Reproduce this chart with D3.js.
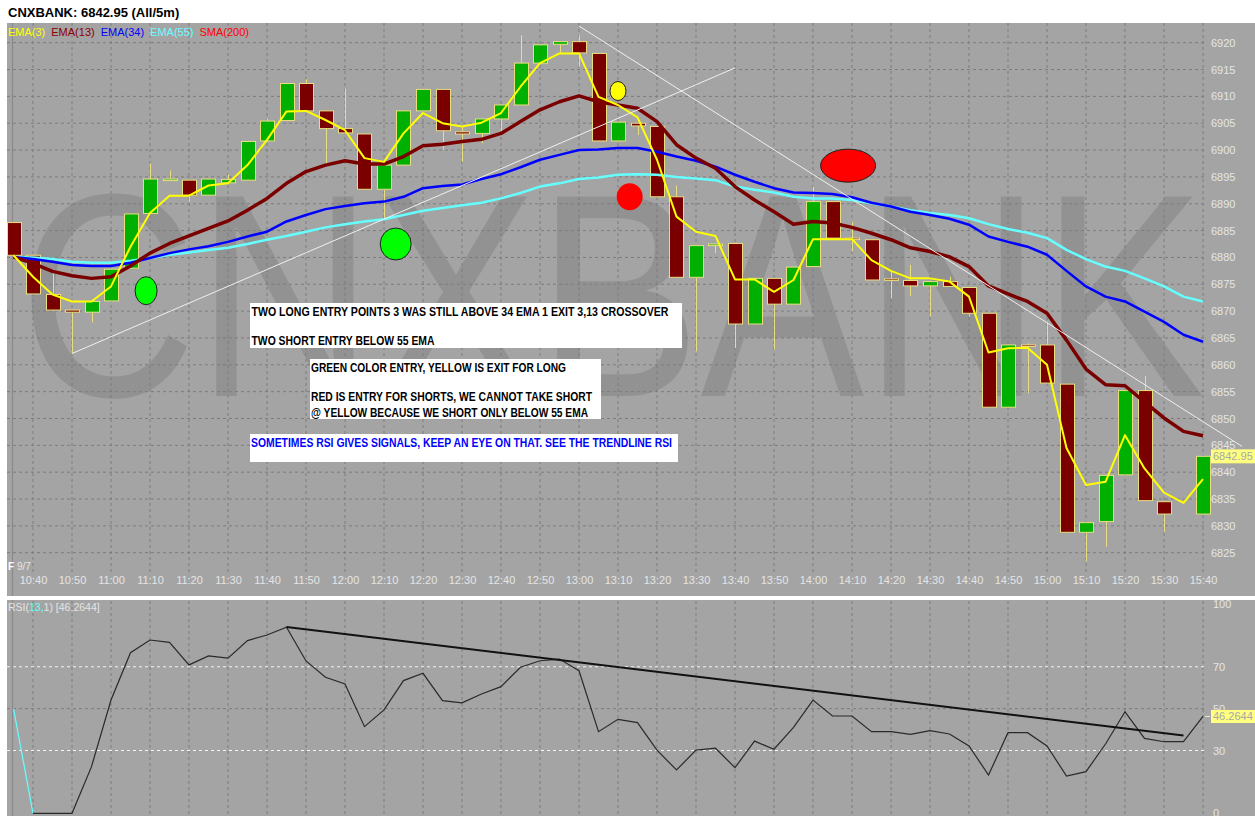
<!DOCTYPE html>
<html><head><meta charset="utf-8">
<script src="https://cdn.jsdelivr.net/npm/d3@7"></script>
<style>
html,body{margin:0;padding:0;background:#fff;}
svg{display:block;}
text{font-family:"Liberation Sans",Arial,sans-serif;}
</style></head><body>
<svg id="chart" width="1255" height="816"></svg>
<script>
// ---------- DATA ----------
const times = ["10:35","10:40","10:45","10:50","10:55","11:00","11:05","11:10","11:15","11:20","11:25","11:30","11:35","11:40","11:45","11:50","11:55","12:00","12:05","12:10","12:15","12:20","12:25","12:30","12:35","12:40","12:45","12:50","12:55","13:00","13:05","13:10","13:15","13:20","13:25","13:30","13:35","13:40","13:45","13:50","13:55","14:00","14:05","14:10","14:15","14:20","14:25","14:30","14:35","14:40","14:45","14:50","14:55","15:00","15:05","15:10","15:15","15:20","15:25","15:30","15:35","15:40"];
const opens = [6886.5,6880.4,6873.1,6870.2,6869.8,6871.9,6878.0,6888.2,6894.5,6894.4,
 6891.6,6893.9,6894.4,6901.7,6905.5,6912.4,6907.3,6904.0,6903.0,6892.7,
 6897.2,6907.3,6911.3,6903.4,6903.1,6905.8,6908.4,6916.2,6919.7,6920.2,
 6918.0,6901.7,6905.0,6904.4,6891.3,6876.3,6882.2,6882.6,6867.6,6876.1,
 6871.3,6878.3,6890.4,6883.6,6883.3,6876.0,6875.7,6874.7,6875.5,6874.4,
 6869.6,6852.1,6863.7,6863.7,6856.4,6828.8,6830.8,6839.5,6855.2,6834.5,
 null,6832.2];
const highs = [6886.5,6880.4,6877.7,6870.2,6871.8,6877.8,6888.1,6897.5,6896.2,6894.4,
 6894.6,6895.5,6901.6,6905.8,6912.4,6913.2,6907.3,6911.4,6903.0,6897.2,
 6907.3,6911.3,6911.3,6904.5,6905.8,6908.4,6921.4,6919.6,6920.2,6921.4,
 6918.0,6905.2,6905.0,6904.4,6893.4,6882.2,6882.6,6882.6,6876.1,6876.1,
 6878.2,6893.2,6890.4,6886.7,6883.3,6877.4,6878.6,6875.5,6876.4,6874.4,
 6869.6,6863.7,6864.0,6867.9,6856.4,6830.6,6839.4,6855.2,6857.9,6834.5,
 null,6842.95];
const lows = [6880.4,6873.2,6870.2,6862.2,6867.9,6871.9,6878.0,6888.2,6894.5,6890.4,
 6891.6,6893.9,6894.4,6901.7,6905.5,6907.3,6897.5,6903.2,6892.7,6887.1,
 6897.2,6907.3,6900.1,6897.8,6901.3,6903.4,6908.4,6916.2,6918.0,6915.5,
 6901.7,6901.7,6902.8,6891.3,6876.3,6862.5,6880.8,6863.1,6867.6,6862.8,
 6871.3,6878.3,6883.6,6881.1,6875.8,6872.4,6872.8,6869.1,6874.6,6869.0,
 6852.1,6852.1,6854.7,6856.6,6828.8,6823.4,6826.1,6839.5,6834.7,6828.9,
 null,6832.2];
const closes = [6880.4,6873.2,6870.2,6869.8,6871.8,6877.8,6888.1,6894.6,6894.6,6891.6,
 6894.6,6894.5,6901.6,6905.4,6912.4,6907.3,6904.0,6903.2,6892.7,6897.2,
 6907.3,6911.3,6903.6,6903.0,6905.8,6908.4,6916.2,6919.6,6920.2,6918.1,
 6901.7,6905.2,6904.5,6891.3,6876.3,6882.2,6882.5,6867.6,6876.1,6871.3,
 6878.2,6890.4,6883.6,6883.4,6875.8,6875.9,6874.7,6875.5,6874.6,6869.6,
 6852.1,6863.7,6863.6,6856.6,6828.8,6830.6,6839.4,6855.2,6834.7,6832.2,
 null,6842.95];
const ema3 = [6880.4,6876.4,6873.1,6871.8,6871.8,6874.6,6882.0,6888.3,6891.5,6891.5,
 6893.4,6893.8,6897.2,6901.9,6907.2,6907.3,6905.6,6903.7,6898.5,6897.8,
 6903.1,6906.9,6905.0,6904.4,6905.1,6906.9,6911.8,6916.2,6918.0,6918.0,
 6909.9,6908.4,6906.1,6898.2,6887.6,6884.8,6884.0,6875.9,6875.9,6873.6,
 6875.8,6883.4,6883.4,6883.4,6879.5,6877.5,6876.1,6876.1,6875.5,6872.7,
 6862.3,6863.1,6863.2,6860.0,6844.5,6837.6,6838.2,6846.9,6840.7,6836.2,
 6834.3,6838.7];
const ema13 = [6880.1,6878.9,6877.4,6876.6,6876.1,6876.4,6878.4,6880.8,6882.6,6884.0,
 6885.4,6886.8,6888.8,6891.0,6893.8,6896.0,6897.2,6898.0,6897.4,6897.4,
 6898.8,6900.8,6901.1,6901.6,6902.0,6903.1,6905.3,6907.5,6909.0,6910.1,
 6909.0,6908.4,6907.8,6905.3,6901.0,6898.5,6896.6,6893.2,6890.7,6888.5,
 6886.2,6886.7,6886.4,6885.6,6884.5,6883.3,6881.8,6881.1,6880.1,6878.3,
 6874.7,6873.2,6871.8,6869.6,6864.6,6859.2,6856.3,6856.1,6853.1,6850.1,
 6847.6,6846.8];
const ema34 = [6880.1,6879.7,6879.2,6878.6,6878.4,6878.4,6879.0,6879.9,6880.8,6881.5,
 6882.1,6882.9,6883.9,6884.8,6886.7,6887.9,6889.0,6889.6,6890.1,6890.4,
 6891.3,6892.9,6893.3,6893.6,6894.6,6895.5,6896.8,6898.2,6899.1,6900.0,
 6900.1,6900.4,6900.4,6899.7,6898.8,6898.0,6896.9,6895.4,6894.1,6892.9,
 6892.1,6892.0,6891.8,6891.2,6890.2,6889.5,6888.5,6887.9,6887.2,6886.1,
 6883.9,6882.9,6882.0,6880.5,6877.5,6874.6,6872.7,6871.8,6869.9,6868.0,
 6865.6,6864.3];
const ema55 = [6880.1,6880.0,6879.7,6879.2,6879.0,6879.0,6879.4,6879.9,6880.5,6880.9,
 6881.4,6881.8,6882.5,6883.3,6884.0,6884.8,6885.6,6886.2,6886.7,6887.1,
 6887.9,6888.7,6889.2,6889.7,6890.2,6891.0,6892.0,6893.2,6893.8,6894.6,
 6894.9,6895.4,6895.5,6895.4,6895.0,6894.7,6894.4,6893.2,6892.6,6892.1,
 6891.3,6891.0,6891.0,6890.7,6890.1,6889.5,6888.8,6888.3,6887.9,6887.3,
 6886.2,6885.3,6884.6,6883.6,6881.4,6879.7,6878.3,6877.5,6876.1,6874.6,
 6872.7,6871.8];
const rsiValues = [50,0,0,0,22.3,54.1,76.7,82.8,81.7,70.9,
 75.2,74.1,82.5,85.2,88.9,72.8,65.0,61.8,41.4,49.4,
 63.4,66.9,53.8,52.8,57.0,60.5,69.8,72.9,73.7,68.1,
 39.0,44.9,43.3,30.2,20.7,30.2,31.1,21.8,34.5,30.6,
 41.1,54.1,46.5,46.5,39.0,39.0,37.7,39.5,37.9,32.2,
 18.3,38.5,38.5,32.2,17.8,19.9,33.1,48.5,35.8,34.2,
 34.2,46.26];
const priceTicks = [6825,6830,6835,6840,6845,6850,6855,6860,6865,6870,6875,6880,6885,6890,6895,6900,6905,6910,6915,6920];
const timeLabels = ["10:40","10:50","11:00","11:10","11:20","11:30","11:40","11:50","12:00","12:10","12:20","12:30","12:40","12:50","13:00","13:10","13:20","13:30","13:40","13:50","14:00","14:10","14:20","14:30","14:40","14:50","15:00","15:10","15:20","15:30","15:40"];
const rsiTicks = [100,70,50,30,0];
const lastPrice = 6842.95;
const lastRsi = 46.2644;
const priceTrendlines = [[["10:50",6862.1],["13:40",6915.3]],[["13:00",6923.1],["15:50",6844.8]]];
const rsiTrendline = [["11:45",89.0],["15:35",37.2]];
const markers = [
 {t:"11:09",p:6873.8,rx:11,ry:14,fill:"#00ff00"},
 {t:"12:13",p:6882.5,rx:15.5,ry:16,fill:"#00ff00"},
 {t:"13:10",p:6911.0,rx:8,ry:9.5,fill:"#ffff00"},
 {t:"13:13",p:6891.3,rx:13,ry:13.5,fill:"#ff0000",noStroke:true},
 {t:"14:09",p:6897.1,rx:27.5,ry:16.5,fill:"#ff0000"}
];
const legend = [["EMA(3)","#ffff00"],["EMA(13)","#8b0000"],["EMA(34)","#0000ff"],["EMA(55)","#66ffff"],["SMA(200)","#ff0000"]];
const notes1 = ["TWO LONG ENTRY POINTS 3 WAS STILL ABOVE 34 EMA 1 EXIT 3,13 CROSSOVER","TWO SHORT ENTRY BELOW 55 EMA"];
const notes2 = ["GREEN COLOR ENTRY, YELLOW IS EXIT FOR LONG","RED IS ENTRY FOR SHORTS, WE CANNOT TAKE SHORT","@ YELLOW BECAUSE WE SHORT ONLY BELOW 55 EMA"];
const notes3 = ["SOMETIMES RSI GIVES SIGNALS, KEEP AN EYE ON THAT. SEE THE TRENDLINE RSI"];

// ---------- SETUP ----------
const svg = d3.select("#chart");
const parseT = d3.timeParse("%H:%M");
const BG = "#a4a4a4", GRID = "#7c7c7c", WICK = "#e8de80";
const x = d3.scaleTime().domain([parseT("10:35"), parseT("15:40")]).range([13.5, 1203]);
const y = d3.scaleLinear().domain([6825, 6920]).range([552.7, 42.7]);
const yR = d3.scaleLinear().domain([0, 100]).range([813.3, 604]);

// title
svg.append("text").attr("x",8).attr("y",16.5).attr("font-size",13).attr("font-weight","bold").attr("fill","#000").text("CNXBANK: 6842.95 (All/5m)");

// panels
svg.append("rect").attr("x",7).attr("y",23).attr("width",1248).attr("height",573).attr("fill",BG);
svg.append("rect").attr("x",7).attr("y",600).attr("width",1248).attr("height",216).attr("fill",BG);

const defs = svg.append("defs");
defs.append("clipPath").attr("id","cp").append("rect").attr("x",7).attr("y",23).attr("width",1248).attr("height",573);
defs.append("clipPath").attr("id","cr").append("rect").attr("x",7).attr("y",600).attr("width",1248).attr("height",216);

const P = svg.append("g").attr("clip-path","url(#cp)");
const R = svg.append("g").attr("clip-path","url(#cr)");

// watermark
P.append("text").attr("x",19).attr("y",396).attr("font-size",290).attr("fill","#929292")
 .attr("textLength",1186).attr("lengthAdjust","spacingAndGlyphs").text("CNXBANK");

// grids
const tl = timeLabels.map(parseT);
P.selectAll(".vg").data(tl).join("line").attr("x1",d=>x(d)).attr("x2",d=>x(d)).attr("y1",23).attr("y2",572)
 .attr("stroke",GRID).attr("stroke-dasharray","3,3");
P.selectAll(".hg").data(priceTicks).join("line").attr("x1",7).attr("x2",1206).attr("y1",d=>y(d)).attr("y2",d=>y(d))
 .attr("stroke",GRID).attr("stroke-dasharray","3,3");
P.append("line").attr("x1",12.5).attr("x2",12.5).attr("y1",23).attr("y2",596).attr("stroke","#8a8a8a").attr("stroke-width",1.2);

R.selectAll(".vg").data(tl).join("line").attr("x1",d=>x(d)).attr("x2",d=>x(d)).attr("y1",601).attr("y2",816)
 .attr("stroke",GRID).attr("stroke-dasharray","3,3");
R.selectAll(".hg").data(rsiTicks.filter(v=>v>0&&v<100)).join("line").attr("x1",7).attr("x2",1206)
 .attr("y1",d=>yR(d)).attr("y2",d=>yR(d))
 .attr("stroke",d=>d===50?GRID:"#f4f4f4").attr("stroke-dasharray","3,3");
R.append("line").attr("x1",12.5).attr("x2",12.5).attr("y1",600).attr("y2",816).attr("stroke","#8a8a8a").attr("stroke-width",1.2);

// candles
const candles = times.map((t,i)=>({t:parseT(t),o:opens[i],h:highs[i],l:lows[i],c:closes[i]})).filter(d=>d.o!=null);
const cg = P.append("g");
cg.selectAll(".wick").data(candles).join("line")
 .attr("x1",d=>Math.round(x(d.t))+0.5).attr("x2",d=>Math.round(x(d.t))+0.5)
 .attr("y1",d=>y(d.h)).attr("y2",d=>y(d.l)).attr("stroke",WICK).attr("stroke-width",1);
cg.selectAll(".body").data(candles).join("rect")
 .attr("x",d=>Math.round(x(d.t))-6.5).attr("width",14)
 .attr("y",d=>y(Math.max(d.o,d.c))).attr("height",d=>Math.max(1.5,Math.abs(y(d.o)-y(d.c))))
 .attr("fill",d=>d.c>=d.o?"#00b000":"#7a0000").attr("stroke",WICK).attr("stroke-width",1);

// EMA lines
const mkLine = (vals)=>d3.line().x((d,i)=>x(parseT(times[i]))).y(d=>y(d))(vals);
const emaStyles = [[ema55,"#66ffff",2.5],[ema34,"#0000ff",2.5],[ema13,"#7a0000",3.5],[ema3,"#ffff00",2]];
emaStyles.forEach(([vals,col,w])=>{
  P.append("path").attr("d",mkLine(vals)).attr("fill","none").attr("stroke",col).attr("stroke-width",w).attr("stroke-linejoin","round");
});

// trendlines
priceTrendlines.forEach(seg=>{
  P.append("line").attr("x1",x(parseT(seg[0][0]))).attr("y1",y(seg[0][1]))
   .attr("x2",x(parseT(seg[1][0]))).attr("y2",y(seg[1][1])).attr("stroke","#f0f0f0").attr("stroke-width",1);
});

// markers
P.selectAll(".mk").data(markers).join("ellipse")
 .attr("cx",d=>x(parseT(d.t))).attr("cy",d=>y(d.p)).attr("rx",d=>d.rx).attr("ry",d=>d.ry)
 .attr("fill",d=>d.fill).attr("stroke",d=>d.noStroke?"none":"#202020").attr("stroke-width",1);

// axes (price)
const ax = d3.axisRight(y).tickValues(priceTicks).tickSize(0).tickPadding(3).tickFormat(d3.format("d"));
const axg = svg.append("g").attr("transform","translate(1208,0)").call(ax);
axg.select(".domain").remove();
axg.selectAll("text").attr("fill","#e4e4e4").attr("font-size",11).attr("font-family","Liberation Sans, Arial, sans-serif");

const tx = d3.axisBottom(x).tickValues(tl).tickSize(0).tickPadding(2).tickFormat(d3.timeFormat("%H:%M"));
const txg = svg.append("g").attr("transform","translate(0,574)").call(tx);
txg.select(".domain").remove();
txg.selectAll("text").attr("fill","#e4e4e4").attr("font-size",11).attr("font-family","Liberation Sans, Arial, sans-serif");

svg.append("text").attr("x",8).attr("y",570).attr("font-size",10).attr("fill","#ffffff").attr("font-weight","bold").text("F");
svg.append("text").attr("x",17).attr("y",570).attr("font-size",10).attr("fill","#e4e4e4").text("9/7");

// last price tag
const lp = svg.append("g");
lp.append("rect").attr("x",1211).attr("y",y(lastPrice)-7).attr("width",44).attr("height",14).attr("fill","#ffff80");
lp.append("text").attr("x",1213).attr("y",y(lastPrice)+4).attr("font-size",11).attr("fill","#a8a8a8").text(lastPrice.toFixed(2));

// legend
const lgT = svg.append("text").attr("x",8).attr("y",36).attr("font-size",11);
legend.forEach(([t,c],i)=>{ lgT.append("tspan").attr("fill",c).attr("dx",i?6:0).text(t); });

// notes
const notes = svg.append("g").attr("font-weight","bold").attr("font-size",12.5);
notes.append("rect").attr("x",250).attr("y",303).attr("width",432).attr("height",45).attr("fill","#fff");
notes.append("rect").attr("x",310).attr("y",359).attr("width",291).attr("height",60).attr("fill","#fff");
notes.append("rect").attr("x",250).attr("y",434).attr("width",428).attr("height",28).attr("fill","#fff");
const noteLines = [
 [notes1[0],251.5,315.5,417,"#000"],[notes1[1],251.5,344.5,183,"#000"],
 [notes2[0],311,372,255,"#000"],[notes2[1],311,401,281,"#000"],[notes2[2],311,416.5,277,"#000"],
 [notes3[0],251,446.5,421,"#0000ff"]];
noteLines.forEach(([t,xx,yy,w,c])=>{
  notes.append("text").attr("x",xx).attr("y",yy).attr("fill",c).attr("textLength",w).attr("lengthAdjust","spacingAndGlyphs").text(t);
});

// RSI
const rsiLine = d3.line().x(d=>x(parseT(times[d.i]))).y(d=>yR(d.v));
const rpts = rsiValues.map((v,i)=>({i,v}));
R.append("path").attr("d",rsiLine(rpts.slice(0,2))).attr("fill","none").attr("stroke","#66ffff").attr("stroke-width",1.2);
R.append("path").attr("d",rsiLine(rpts.slice(1))).attr("fill","none").attr("stroke","#2a2a2a").attr("stroke-width",1.2);
R.append("line").attr("x1",x(parseT(rsiTrendline[0][0]))).attr("y1",yR(rsiTrendline[0][1]))
 .attr("x2",x(parseT(rsiTrendline[1][0]))).attr("y2",yR(rsiTrendline[1][1])).attr("stroke","#111").attr("stroke-width",2);

const ra = d3.axisRight(yR).tickValues(rsiTicks).tickSize(0).tickPadding(5);
const rag = svg.append("g").attr("transform","translate(1208,0)").call(ra);
rag.select(".domain").remove();
rag.selectAll("text").attr("fill","#e4e4e4").attr("font-size",11).attr("font-family","Liberation Sans, Arial, sans-serif");

const rt = svg.append("g");
rt.append("line").attr("x1",1205).attr("x2",1210).attr("y1",yR(lastRsi)).attr("y2",yR(lastRsi)).attr("stroke","#e4e4e4");
rt.append("rect").attr("x",1211).attr("y",yR(lastRsi)-6.5).attr("width",44).attr("height",13).attr("fill","#ffff80");
rt.append("text").attr("x",1213).attr("y",yR(lastRsi)+4).attr("font-size",11).attr("fill","#a8a8a8").text(lastRsi.toFixed(4));

const rh = svg.append("text").attr("x",8).attr("y",611).attr("font-size",10.5).attr("fill","#e4e4e4");
rh.append("tspan").text("RSI(");
rh.append("tspan").attr("fill","#66ffff").text("13,");
rh.append("tspan").text("1) ["+lastRsi.toFixed(4)+"]");
</script>
</body></html>
